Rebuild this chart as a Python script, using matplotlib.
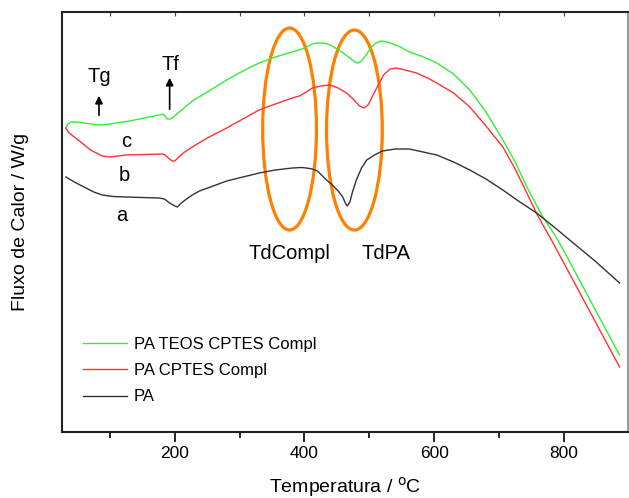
import numpy as np
import matplotlib
matplotlib.use("Agg")
import matplotlib.pyplot as plt
from matplotlib.patches import Ellipse

plt.rcParams['font.family'] = ['Liberation Sans', 'DejaVu Sans']

# temperatura (C) / fluxo de calor (unidades arbitrarias)
t_c = [32, 35, 40, 48, 60, 83, 100, 130, 176, 182, 185, 188, 193, 198, 205, 227, 250, 280, 305,
       330, 355, 381, 392, 403, 412, 420, 430, 440, 450, 460, 470, 478, 483, 488, 495, 502, 510,
       518, 528, 545, 562, 580, 604, 630, 655, 680, 706, 725, 743, 765, 791, 886]
y_c = [3.04, 3.08, 3.10, 3.10, 3.09, 3.07, 3.08, 3.11, 3.17, 3.18, 3.16, 3.13, 3.13, 3.15, 3.19,
       3.31, 3.40, 3.52, 3.61, 3.69, 3.75, 3.80, 3.82, 3.85, 3.88, 3.89, 3.89, 3.87, 3.83, 3.79,
       3.74, 3.70, 3.69, 3.71, 3.77, 3.84, 3.89, 3.91, 3.90, 3.86, 3.80, 3.76, 3.69, 3.58, 3.42,
       3.20, 2.92, 2.70, 2.45, 2.18, 1.92, 0.77]

t_b = [32, 37, 45, 53, 70, 88, 100, 125, 181, 185, 190, 196, 200, 206, 215, 227, 250, 280, 305,
       330, 355, 381, 392, 403, 412, 425, 439, 452, 465, 475, 485, 492, 498, 505, 513, 522, 532,
       542, 555, 573, 590, 604, 630, 655, 680, 706, 725, 743, 760, 781, 886]
y_b = [3.04, 2.99, 2.95, 2.91, 2.82, 2.76, 2.75, 2.77, 2.78, 2.77, 2.74, 2.71, 2.71, 2.75, 2.80,
       2.85, 2.94, 3.04, 3.13, 3.22, 3.28, 3.34, 3.36, 3.40, 3.44, 3.46, 3.47, 3.44, 3.39, 3.33,
       3.26, 3.24, 3.27, 3.36, 3.46, 3.57, 3.63, 3.64, 3.62, 3.59, 3.54, 3.49, 3.39, 3.25, 3.06,
       2.85, 2.63, 2.39, 2.16, 1.92, 0.65]

t_a = [32, 45, 60, 75, 88, 105, 125, 150, 176, 184, 192, 200, 204, 210, 218, 227, 238, 255, 280,
       305, 330, 355, 381, 395, 403, 412, 420, 434, 443, 452, 459, 463, 466, 470, 474, 480, 488,
       496, 508, 520, 540, 562, 583, 604, 630, 655, 680, 706, 730, 758, 785, 809, 850, 886]
y_a = [2.55, 2.50, 2.45, 2.40, 2.37, 2.355, 2.35, 2.345, 2.34, 2.33, 2.29, 2.26, 2.25, 2.29,
       2.33, 2.37, 2.41, 2.45, 2.51, 2.55, 2.59, 2.62, 2.64, 2.645, 2.64, 2.63, 2.61, 2.52, 2.47,
       2.41, 2.35, 2.29, 2.26, 2.30, 2.40, 2.52, 2.64, 2.72, 2.77, 2.81, 2.83, 2.83, 2.80, 2.77,
       2.70, 2.62, 2.53, 2.42, 2.31, 2.19, 2.05, 1.92, 1.70, 1.49]

fig = plt.figure(figsize=(6.29, 4.98), dpi=100)
ax = fig.add_axes([0.0986, 0.1325, 0.8998, 0.8434])

ax.plot(t_c, y_c, color='#33ee33', lw=1.0, label='PA TEOS CPTES Compl')
ax.plot(t_b, y_b, color='#ff3333', lw=1.0, label='PA CPTES Compl')
ax.plot(t_a, y_a, color='#333333', lw=1.0, label='PA')

# elipses
ax.add_patch(Ellipse((377, 3.03), 83, 2.02, fill=False, ec='#ff8000', lw=2.3))
ax.add_patch(Ellipse((477, 3.02), 86, 2.00, fill=False, ec='#ff8000', lw=2.3))

ax.text(377, 1.79, 'TdCompl', fontsize=14.5, ha='center', va='center')
ax.text(526, 1.79, 'TdPA', fontsize=14.5, ha='center', va='center')

ax.text(83, 3.56, 'Tg', fontsize=14.5, ha='center', va='center')
ax.text(193, 3.68, 'Tf', fontsize=14.5, ha='center', va='center')
ax.annotate('', xy=(83, 3.39), xytext=(83, 3.14),
            arrowprops=dict(arrowstyle='-|>', color='k', lw=1.2, mutation_scale=11))
ax.annotate('', xy=(192, 3.57), xytext=(192, 3.20),
            arrowprops=dict(arrowstyle='-|>', color='k', lw=1.2, mutation_scale=11))

ax.text(125, 2.91, 'c', fontsize=14.5, ha='center', va='center')
ax.text(122, 2.57, 'b', fontsize=14.5, ha='center', va='center')
ax.text(118, 2.17, 'a', fontsize=14.5, ha='center', va='center')

ax.set_xlim(26, 899)
ax.set_ylim(0, 4.2)
ax.set_xticks([200, 400, 600, 800])
ax.set_xticks([100, 300, 500, 700], minor=True)
ax.set_yticks([])
ax.tick_params(axis='x', which='major', direction='out', length=7, width=1.2, labelsize=12.5, pad=3)
ax.tick_params(axis='x', which='minor', direction='out', length=4, width=1.2)

top = ax.secondary_xaxis('top')
top.set_xticks([200, 400, 600, 800])
top.set_xticks([100, 300, 500, 700], minor=True)
top.tick_params(axis='x', which='both', direction='in', length=3, width=0.8, labeltop=False,
                color='#444444')
top.spines['top'].set_visible(False)

for s in ['left', 'bottom', 'top']:
    ax.spines[s].set_linewidth(1.5)
    ax.spines[s].set_color('#222222')
ax.spines['right'].set_color('#888888')
ax.spines['right'].set_linewidth(1.2)

ax.set_xlabel('Temperatura / $^{\\mathrm{o}}$C', fontsize=14, labelpad=10)
ax.set_ylabel('Fluxo de Calor / W/g', fontsize=14, labelpad=24)

ax.legend(loc='lower left', bbox_to_anchor=(0.011, 0.03), frameon=False, fontsize=12,
          handlelength=2.6, handletextpad=0.45, labelspacing=0.68)

fig.savefig('out.png', dpi=100)
